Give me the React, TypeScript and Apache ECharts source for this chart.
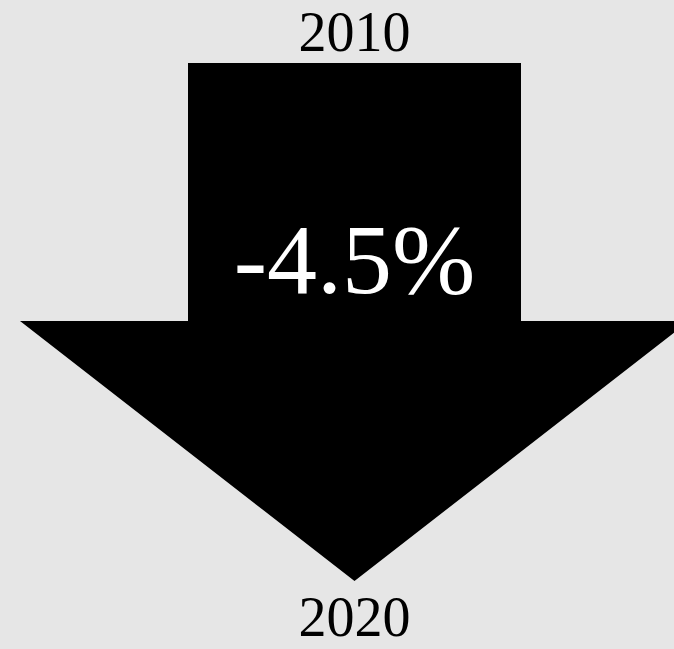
import React, { useEffect, useRef } from "react";
import * as echarts from "echarts";

const years: string[] = ["2010", "2020"];
const changeValues: number[] = [-4.5];

const W = 674;
const H = 649;

export default function App() {
  const ref = useRef<HTMLDivElement>(null);
  useEffect(() => {
    if (!ref.current) return;
    const chart = echarts.init(ref.current, null, { renderer: "svg", width: W, height: H });
    const cx = 354.5;
    const label = `${changeValues[0] < 0 ? "-" : "+"}${Math.abs(changeValues[0]).toFixed(1)}%`;
    const font = '"Liberation Serif", "DejaVu Serif", serif';
    chart.setOption({
      animation: false,
      backgroundColor: "#e6e6e6",
      graphic: [
        {
          type: "polygon",
          shape: {
            points: [
              [188, 63],
              [521, 63],
              [521, 321],
              [689, 321],
              [cx, 581],
              [20, 321],
              [188, 321],
            ],
          },
          style: { fill: "#000000" },
        },
        {
          type: "text",
          x: cx,
          y: 32,
          style: {
            text: years[0],
            fill: "#000000",
            font: `56px ${font}`,
            textAlign: "center",
            textVerticalAlign: "middle",
          },
        },
        {
          type: "text",
          x: cx,
          y: 617,
          style: {
            text: years[1],
            fill: "#000000",
            font: `56px ${font}`,
            textAlign: "center",
            textVerticalAlign: "middle",
          },
        },
        {
          type: "text",
          x: cx,
          y: 259,
          style: {
            text: label,
            fill: "#ffffff",
            font: `100px ${font}`,
            textAlign: "center",
            textVerticalAlign: "middle",
          },
        },
      ],
    });
    return () => chart.dispose();
  }, []);
  return (
    <div
      ref={ref}
      style={{ position: "fixed", left: 0, top: 0, width: W, height: H }}
    />
  );
}
